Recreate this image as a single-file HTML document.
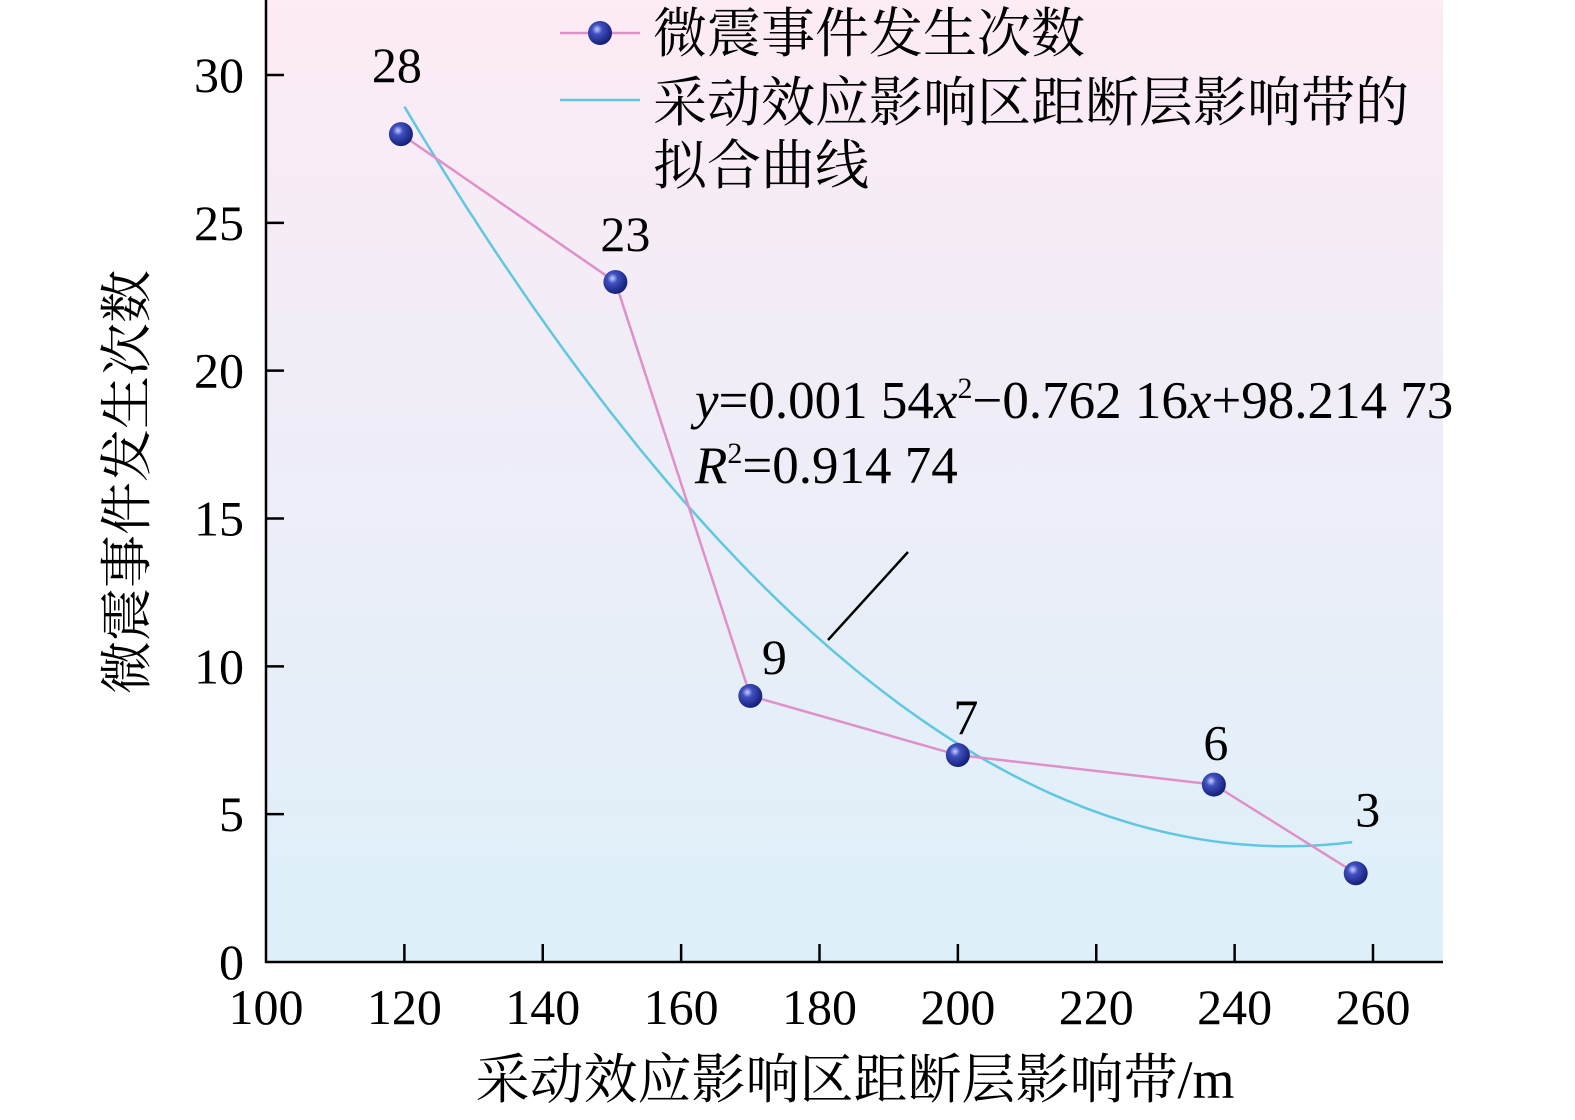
<!DOCTYPE html>
<html><head><meta charset="utf-8"><style>
html,body{margin:0;padding:0;background:#fff;}
svg{display:block;font-family:"Liberation Serif","Noto Serif CJK SC",serif;}
</style></head><body>
<svg id="chart" width="1575" height="1120" viewBox="0 0 1575 1120">
<defs>
<linearGradient id="bg" x1="0" y1="0" x2="0" y2="1">
<stop offset="0" stop-color="#fdebf5"/><stop offset="1" stop-color="#ddf0fa"/></linearGradient>
<radialGradient id="ball" cx="0.38" cy="0.35" r="0.7">
<stop offset="0" stop-color="#c8d0ff"/><stop offset="0.3" stop-color="#4050c0"/><stop offset="1" stop-color="#101a70"/></radialGradient>
</defs>
<rect x="266" y="0" width="1177" height="962" fill="url(#bg)"/>
<g id="axes"></g>
<g id="marks"></g>
<g>
<line x1="560" y1="33" x2="640" y2="33" stroke="#e090c8" stroke-width="2.5"/>
<circle cx="600" cy="33" r="12" fill="url(#ball)"/>
<text x="653" y="52" font-size="54">微震事件发生次数</text>
<line x1="560" y1="100" x2="640" y2="100" stroke="#5fc8e0" stroke-width="2.5"/>
<text x="653" y="121" font-size="54">采动效应影响区距断层影响带的</text>
<text x="653" y="184" font-size="54">拟合曲线</text>
</g>
<text x="695" y="418" font-size="53"><tspan font-style="italic">y</tspan>=0.001 54<tspan font-style="italic">x</tspan><tspan font-size="30" dy="-20">2</tspan><tspan dy="20">−0.762 16</tspan><tspan font-style="italic">x</tspan>+98.214 73</text>
<text x="695" y="483" font-size="53"><tspan font-style="italic">R</tspan><tspan font-size="30" dy="-20">2</tspan><tspan dy="20">=0.914 74</tspan></text>
<line x1="908" y1="552" x2="828" y2="640" stroke="#000" stroke-width="2.5"/>
<text x="128" y="482" font-size="53" text-anchor="middle" transform="rotate(-90 128 482)" dominant-baseline="central">微震事件发生次数</text>
<text x="855" y="1098" font-size="54" text-anchor="middle">采动效应影响区距断层影响带/m</text>
</svg>
<script>
const xs=[119.5,150.5,170,200,237,257.5];
const counts=[28,23,9,7,6,3];
const xTicks=[100,120,140,160,180,200,220,240,260];
const yTicks=[0,5,10,15,20,25,30];
const fitA=0.00154,fitB=-0.76216,fitC=98.21473;
const labelDx=[-4,10,24,8,2,12];
const labelDy=[-52,-31,-22,-21,-25,-47];
const X=v=>266+(v-100)*1107/160;
const Y=v=>962-v*887/30;
const NS='http://www.w3.org/2000/svg';
function mk(tag,attrs,parent,txt){const e=document.createElementNS(NS,tag);for(const k in attrs)e.setAttribute(k,attrs[k]);if(txt!==undefined)e.textContent=txt;parent.appendChild(e);return e;}
const axes=document.getElementById('axes'),marks=document.getElementById('marks');
let a=mk('line',{x1:266,y1:0,x2:266,y2:963,stroke:'#000','stroke-width':2.5},axes);


a=mk('line',{x1:265,y1:962,x2:1443,y2:962,stroke:'#000','stroke-width':2.5},axes);


xTicks.forEach(t=>{const x=X(t);
 if(t>100){const l=mk('line',{x1:x,y1:962,x2:x,y2:944,stroke:'#000','stroke-width':2.5},axes);
 
 }
 const e=mk('text',{x:x,y:1024,'font-size':50,'text-anchor':'middle'},axes,t);
 
 });
yTicks.forEach(t=>{const y=Y(t);
 if(t>0){const l=mk('line',{x1:266,y1:y,x2:284,y2:y,stroke:'#000','stroke-width':2.5},axes);
 
 }
 const e=mk('text',{x:244,y:y+17,'font-size':50,'text-anchor':'end'},axes,t);
 
 });
let d='';for(let v=120;v<=257.01;v+=1){const f=fitA*v*v+fitB*v+fitC;d+=(d?'L':'M')+X(v).toFixed(1)+','+Y(f).toFixed(1);}
let p=mk('path',{d:d,fill:'none',stroke:'#5fc8e0','stroke-width':2.5},marks);


p=mk('polyline',{points:xs.map((v,i)=>X(v)+','+Y(counts[i])).join(' '),fill:'none',stroke:'#e090c8','stroke-width':2.5},marks);


xs.forEach((v,i)=>{
 const c=mk('circle',{cx:X(v),cy:Y(counts[i]),r:12,fill:'url(#ball)'},marks);
 
 
 const t=mk('text',{x:X(v)+labelDx[i],y:Y(counts[i])+labelDy[i],'font-size':50,'text-anchor':'middle'},marks,counts[i]);
 
 });
</script>
</body></html>
